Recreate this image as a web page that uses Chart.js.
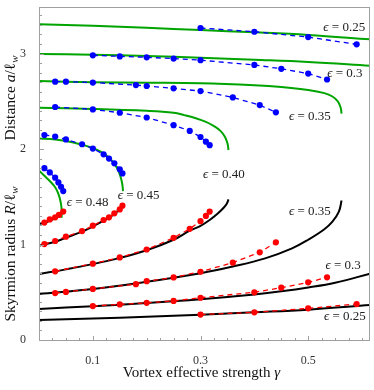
<!DOCTYPE html>
<html>
<head>
<meta charset="utf-8">
<script src="https://cdn.jsdelivr.net/npm/chart.js@4.4.1/dist/chart.umd.min.js"></script>
<style>
  html, body { margin: 0; padding: 0; background: #fff; }
  #wrap { width: 374px; height: 390px; }
</style>
</head>
<body>
<div id="wrap"><canvas id="canvas"></canvas></div>
<script>
// theory curves (a = green, R = black) and simulation points (blue / red)
const thGammaA25 = [0, 0.1, 0.2, 0.3, 0.4, 0.5, 0.615];
const thA25 = [3.306, 3.29, 3.27, 3.245, 3.222, 3.194, 3.148];
const thGammaR25 = [0, 0.1, 0.2, 0.3, 0.4, 0.5, 0.615];
const thR25 = [0.209, 0.225, 0.244, 0.265, 0.29, 0.318, 0.366];
const simGamma25 = [0.3, 0.4, 0.5, 0.59];
const simA25 = [3.267, 3.228, 3.172, 3.096];
const simR25 = [0.267, 0.29, 0.332, 0.377];

const thGammaA30 = [0, 0.1, 0.2, 0.3, 0.4, 0.5, 0.615];
const thA30 = [2.995, 2.988, 2.975, 2.955, 2.935, 2.912, 2.873];
const thGammaR30 = [0, 0.1, 0.2, 0.3, 0.4, 0.45, 0.5, 0.55, 0.615];
const thR30 = [0.325, 0.355, 0.388, 0.428, 0.478, 0.51, 0.55, 0.6, 0.695];
const simGamma30 = [0.1, 0.15, 0.2, 0.25, 0.3, 0.4, 0.45, 0.5, 0.535];
const simA30 = [2.981, 2.97, 2.96, 2.947, 2.93, 2.88, 2.84, 2.79, 2.728];
const simR30 = [0.356, 0.373, 0.39, 0.41, 0.443, 0.5, 0.548, 0.604, 0.657];

const thGammaA35 = [0, 0.1, 0.2, 0.3, 0.4, 0.45, 0.5, 0.53, 0.545, 0.555, 0.56, 0.562];
const thA35 = [2.712, 2.7, 2.695, 2.688, 2.667, 2.649, 2.618, 2.585, 2.55, 2.5, 2.44, 2.37];
const thGammaR35 = [0, 0.1, 0.2, 0.3, 0.36, 0.42, 0.47, 0.5, 0.53, 0.545, 0.557, 0.562];
const thR35 = [0.482, 0.534, 0.61, 0.7, 0.77, 0.855, 0.96, 1.05, 1.16, 1.24, 1.345, 1.46];
const simGamma35 = [0.03, 0.05, 0.1, 0.18, 0.2, 0.25, 0.3, 0.36, 0.41, 0.44];
const simA35 = [2.705, 2.705, 2.696, 2.67, 2.66, 2.635, 2.607, 2.54, 2.46, 2.384];
const simR35 = [0.492, 0.504, 0.535, 0.585, 0.616, 0.656, 0.715, 0.81, 0.918, 1.023];

const thGammaA40 = [0, 0.1, 0.2, 0.25, 0.27, 0.29, 0.31, 0.325, 0.337, 0.345, 0.35, 0.352];
const thA40 = [2.432, 2.42, 2.4, 2.38, 2.355, 2.325, 2.285, 2.24, 2.19, 2.13, 2.06, 1.99];
const thGammaR40 = [0, 0.05, 0.1, 0.15, 0.2, 0.25, 0.28, 0.3, 0.317, 0.332, 0.343, 0.349, 0.352];
const thR40 = [0.691, 0.74, 0.795, 0.86, 0.94, 1.05, 1.145, 1.195, 1.257, 1.325, 1.385, 1.43, 1.473];
const simGamma40 = [0.03, 0.1, 0.15, 0.2, 0.25, 0.28, 0.3, 0.31, 0.317];
const simA40 = [2.44, 2.415, 2.38, 2.33, 2.25, 2.19, 2.126, 2.077, 2.04];
const simR40 = [0.72, 0.8, 0.865, 0.948, 1.07, 1.165, 1.245, 1.3, 1.345];

const thGammaA45 = [0, 0.03, 0.05, 0.08, 0.1, 0.12, 0.135, 0.145, 0.152, 0.155, 0.156];
const thA45 = [2.11, 2.1, 2.085, 2.045, 2.01, 1.955, 1.88, 1.8, 1.7, 1.62, 1.56];
const thGammaR45 = [0, 0.03, 0.05, 0.08, 0.1, 0.12, 0.135, 0.145, 0.152, 0.156];
const thR45 = [0.988, 1.03, 1.072, 1.135, 1.19, 1.25, 1.3, 1.345, 1.385, 1.42];
const simGamma45 = [0.01, 0.03, 0.05, 0.08, 0.1, 0.12, 0.13, 0.14, 0.15, 0.155];
const simA45 = [2.147, 2.13, 2.1, 2.05, 2.005, 1.945, 1.9, 1.85, 1.787, 1.745];
const simR45 = [1.005, 1.037, 1.082, 1.141, 1.197, 1.257, 1.285, 1.327, 1.368, 1.407];

const thGammaA48 = [0, 0.01, 0.02, 0.03, 0.036, 0.04, 0.042, 0.042];
const thA48 = [1.775, 1.72, 1.665, 1.6, 1.53, 1.45, 1.37, 1.28];
const thGammaR48 = [0, 0.01, 0.02, 0.03, 0.038, 0.043];
const thR48 = [1.215, 1.228, 1.25, 1.275, 1.3, 1.34];
const simGammaA48 = [0.01, 0.02, 0.03, 0.036, 0.041, 0.045];
const simA48 = [1.8, 1.755, 1.7, 1.65, 1.605, 1.56];
const simGammaR48 = [0.01, 0.02, 0.03, 0.037, 0.045];
const simR48 = [1.23, 1.263, 1.285, 1.31, 1.345];

// curve labels: text, gamma, value
const labelText = ["0.25", "0.3", "0.35", "0.40", "0.45", "0.48", "0.35", "0.3", "0.25"];
const labelGamma = [0.567, 0.568, 0.503, 0.3435, 0.185, 0.0904, 0.503, 0.565, 0.568];
const labelValue = [3.267, 2.792, 2.338, 1.728, 1.508, 1.442, 1.343, 0.775, 0.244];

const xMajor = [0.1, 0.3, 0.5];
const xTickLabels = ["0.1", "0.3", "0.5"];
const yMajor = [0, 1, 2, 3];
const yTickLabels = ["0", "1", "2", "3"];

const GREEN = "#00a400";
const BLUE = "#0000ff";
const RED = "#ff0000";
const SERIF = "'Liberation Serif', 'DejaVu Serif', serif";

function pts(xs, ys) {
    return xs.map((x, i) => ({ x: x, y: ys[i] }));
}

function curve(xs, ys, color) {
    return {
        data: pts(xs, ys),
        showLine: true,
        borderColor: color,
        borderWidth: 2,
        pointRadius: 0,
        tension: 0.4,
        order: 2,
    };
}

function dots(xs, ys, color) {
    return {
        data: pts(xs, ys),
        showLine: true,
        borderColor: color,
        backgroundColor: color,
        borderWidth: 1.3,
        borderDash: [5, 4],
        pointRadius: 3.1,
        pointBorderWidth: 0,
        tension: 0,
        order: 1,
    };
}

const datasets = [
    curve(thGammaA25, thA25, GREEN), curve(thGammaR25, thR25, "#000"),
    curve(thGammaA30, thA30, GREEN), curve(thGammaR30, thR30, "#000"),
    curve(thGammaA35, thA35, GREEN), curve(thGammaR35, thR35, "#000"),
    curve(thGammaA40, thA40, GREEN), curve(thGammaR40, thR40, "#000"),
    curve(thGammaA45, thA45, GREEN), curve(thGammaR45, thR45, "#000"),
    curve(thGammaA48, thA48, GREEN), curve(thGammaR48, thR48, "#000"),
    dots(simGamma25, simA25, BLUE), dots(simGamma25, simR25, RED),
    dots(simGamma30, simA30, BLUE), dots(simGamma30, simR30, RED),
    dots(simGamma35, simA35, BLUE), dots(simGamma35, simR35, RED),
    dots(simGamma40, simA40, BLUE), dots(simGamma40, simR40, RED),
    dots(simGamma45, simA45, BLUE), dots(simGamma45, simR45, RED),
    dots(simGammaA48, simA48, BLUE), dots(simGammaR48, simR48, RED),
];

function isMajor(list, v) {
    return list.findIndex(m => Math.abs(m - v) < 1e-6);
}

// draws a run of text pieces along the current x direction, centred on 0
function richText(ctx, parts, size) {
    let total = 0;
    parts.forEach(p => {
        ctx.font = (p.it ? "italic " : "") + (p.sub ? size * 0.7 : size) + "px " + SERIF;
        p.w = ctx.measureText(p.t).width;
        total += p.w;
    });
    let x = -total / 2;
    parts.forEach(p => {
        ctx.font = (p.it ? "italic " : "") + (p.sub ? size * 0.7 : size) + "px " + SERIF;
        ctx.fillText(p.t, x, p.sub ? size * 0.25 : 0);
        x += p.w;
    });
}

const decor = {
    id: "decor",
    afterDatasetsDraw(chart) {
        const { ctx, chartArea: a, scales } = chart;
        const x = scales.x, y = scales.y;
        ctx.save();
        ctx.strokeStyle = "#a0a0a0";
        ctx.lineWidth = 1;
        ctx.strokeRect(a.left + 0.5, a.top + 0.5, a.right - a.left - 1, a.bottom - a.top - 1);
        ctx.beginPath();
        x.ticks.forEach(t => {
            const px = Math.round(x.getPixelForValue(t.value)) + 0.5;
            const len = isMajor(xMajor, t.value) >= 0 ? 5 : 3;
            ctx.moveTo(px, a.bottom);
            ctx.lineTo(px, a.bottom - len);
        });
        y.ticks.forEach(t => {
            const py = Math.round(y.getPixelForValue(t.value)) + 0.5;
            const len = isMajor(yMajor, t.value) >= 0 ? 5 : 3;
            ctx.moveTo(a.left, py);
            ctx.lineTo(a.left + len, py);
        });
        ctx.stroke();

        // curve labels
        ctx.fillStyle = "#222";
        ctx.textAlign = "left";
        ctx.textBaseline = "middle";
        labelText.forEach((txt, i) => {
            ctx.save();
            ctx.translate(x.getPixelForValue(labelGamma[i]), y.getPixelForValue(labelValue[i]));
            richText(ctx, [{ t: "\u03f5", it: true }, { t: " = " + txt }], 13);
            ctx.restore();
        });

        // axis titles
        ctx.fillStyle = "#111";
        ctx.save();
        ctx.translate((a.left + a.right) / 2 - 3, 373);
        richText(ctx, [{ t: "Vortex effective strength " }, { t: "\u03b3", it: true }], 15);
        ctx.restore();

        ctx.save();
        ctx.translate(11, 254);
        ctx.rotate(-Math.PI / 2);
        richText(ctx, [{ t: "Skyrmion radius " }, { t: "R", it: true }, { t: "/\u2113" }, { t: "w", it: true, sub: true }], 15.5);
        ctx.restore();

        ctx.save();
        ctx.translate(11, 98);
        ctx.rotate(-Math.PI / 2);
        richText(ctx, [{ t: "Distance " }, { t: "a", it: true }, { t: "/\u2113" }, { t: "w", it: true, sub: true }], 15.5);
        ctx.restore();
        ctx.restore();
    },
};

const config = {
    type: "scatter",
    data: { datasets: datasets },
    options: {
        animation: false,
        responsive: true,
        maintainAspectRatio: false,
        layout: { padding: { top: 7, right: 3, left: 0, bottom: 0 } },
        plugins: { legend: { display: false }, tooltip: { enabled: false } },
        scales: {
            x: {
                type: "linear",
                min: 0,
                max: 0.6148,
                grid: { display: false },
                border: { display: false },
                afterBuildTicks: scale => {
                    const t = [];
                    for (let i = 0; i <= 24; i++) t.push({ value: Math.round(i * 25) / 1000 });
                    scale.ticks = t;
                },
                afterFit: scale => {
                    scale.height = 49;
                    scale.paddingLeft = 0;
                    scale.paddingRight = 0;
                },
                ticks: {
                    autoSkip: false,
                    maxRotation: 0,
                    padding: 5,
                    color: "#333",
                    font: { family: SERIF, size: 12 },
                    callback: v => {
                        const k = isMajor(xMajor, v);
                        return k >= 0 ? xTickLabels[k] : "";
                    },
                },
            },
            y: {
                type: "linear",
                min: -0.01,
                max: 3.487,
                grid: { display: false },
                border: { display: false },
                afterBuildTicks: scale => {
                    const t = [];
                    for (let i = 0; i <= 34; i++) t.push({ value: i / 10 });
                    scale.ticks = t;
                },
                afterFit: scale => {
                    scale.width = 39;
                    scale.paddingTop = 0;
                    scale.paddingBottom = 0;
                },
                ticks: {
                    autoSkip: false,
                    padding: 5,
                    color: "#333",
                    font: { family: SERIF, size: 12 },
                    callback: v => {
                        const k = isMajor(yMajor, v);
                        return k >= 0 ? yTickLabels[k] : "";
                    },
                },
            },
        },
    },
    plugins: [decor],
};

new Chart(document.getElementById("canvas"), config);
</script>
</body>
</html>
